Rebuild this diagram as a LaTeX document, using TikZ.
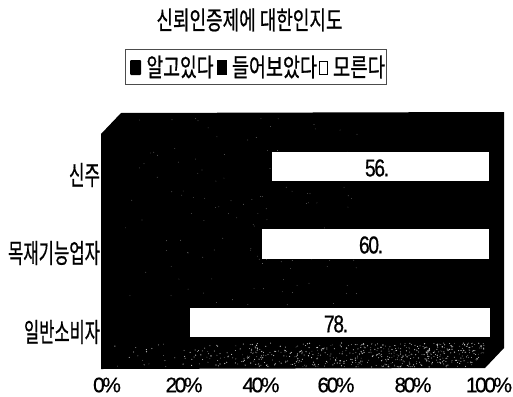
\documentclass[tikz,border=0pt]{standalone}
\usepackage{fontspec}
\usepackage{graphicx}
\setmainfont[FakeBold=0.8]{Noto Sans CJK KR}
\newfontfamily\numf[LetterSpace=-7,FakeBold=0.8]{Liberation Sans}
\newfontfamily\axisf[LetterSpace=-12,FakeBold=0.6]{Liberation Sans}
\newcommand{\fitw}[3]{\resizebox{#1pt}{#2pt}{#3}}
\newcommand{\fitn}[3]{\resizebox{#1pt}{#2pt}{\numf #3}}
\tikzset{
  x=1pt,y=-1pt,
  lab/.style={inner sep=0pt,outer sep=0pt,text=black},
  axislab/.style={lab,font=\axisf\fontsize{21}{21}\selectfont},
  barbox/.style={fill=white,draw=none},
  speck/.style={fill=white,draw=none},
}
\begin{document}
\begin{tikzpicture}
\useasboundingbox (0,0) rectangle (513,396);
\fill[white] (0,0) rectangle (513,396);
% title
\node[lab] (title) at (249.5,20) {\fitw{186}{21}{신뢰인증제에 대한인지도}};
% legend
\draw[black!70,line width=0.6pt] (125,49) rectangle (386,84);
\fill[black,rounded corners=1pt] (130,60) rectangle (141,75);
\node[lab] (l1) at (180,67) {\fitw{67}{21}{알고있다}};
\fill[black] (217,60) rectangle (227,75);
\node[lab] (l2) at (274.5,67) {\fitw{85}{21}{들어보았다}};
\draw[black,line width=0.9pt] (319,61) rectangle (327,74);
\node[lab] (l3) at (359,67) {\fitw{52}{21}{모른다}};
% plot block
\fill[black] (101,134) -- (121,113) -- (504,112) -- (504,348) -- (485,368) -- (101,369) -- cycle;
% speckle
\pgfmathsetseed{7}
\foreach \i in {1,...,620}{
  \pgfmathsetmacro{\px}{112+372*sqrt(rnd)}
  \pgfmathsetmacro{\py}{343+rnd*(24-(\px>470)*(\px-470))}
  \pgfmathsetmacro{\ps}{0.3+rnd*0.35}
  \fill[speck,opacity=.8] (\px,\py) circle[radius=\ps];
}
\foreach \i in {1,...,130}{
  \pgfmathsetmacro{\px}{125+rnd*240}
  \pgfmathsetmacro{\py}{116+rnd*190}
  \fill[speck,opacity=.6] (\px,\py) circle[radius=0.35];
}
% bars
\fill[barbox] (272,152) rectangle (489,181);
\fill[barbox] (262,229) rectangle (489,259);
\fill[barbox] (190,308) rectangle (490,337);
\node[lab] (v1) at (377,168) {\fitn{24}{17}{56.}};
\node[lab] (v2) at (371,245) {\fitn{24}{17}{60.}};
\node[lab] (v3) at (336,324) {\fitn{24}{17}{78.}};
% categories
\node[lab,anchor=east] (c1) at (100,175) {\fitw{31}{22}{신주}};
\node[lab,anchor=east] (c2) at (100,253) {\fitw{92}{22}{목재기능업자}};
\node[lab,anchor=east] (c3) at (100,332) {\fitw{76}{22}{일반소비자}};
% axis
\node[axislab] (a0) at (107,385) {0\%};
\node[axislab] (a20) at (184,385) {20\%};
\node[axislab] (a40) at (261,385) {40\%};
\node[axislab] (a60) at (336,385) {60\%};
\node[axislab] (a80) at (413,385) {80\%};
\node[axislab] (a100) at (489,385) {100\%};
\end{tikzpicture}
\end{document}
